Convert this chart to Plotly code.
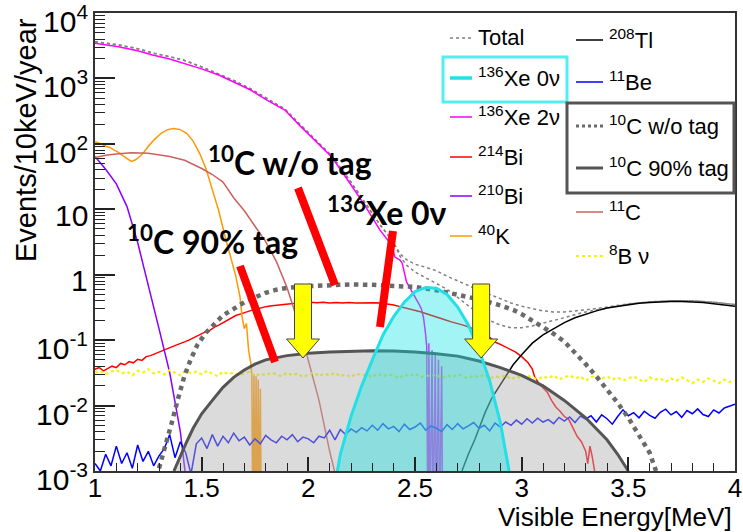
import math
import plotly.graph_objects as go

# ---------------- data ----------------
xe2n_e = [1.00, 1.05, 1.11, 1.20, 1.27, 1.35, 1.42, 1.50, 1.58, 1.65, 1.73, 1.80, 1.89, 1.96, 2.03, 2.11, 2.195,
          2.27, 2.336, 2.383, 2.40, 2.406, 2.42, 2.43, 2.44, 2.45, 2.46, 2.47, 2.48, 2.49, 2.50, 2.51, 2.52, 2.53,
          2.54, 2.55, 2.555, 2.56, 2.565, 2.57, 2.58, 2.585, 2.595, 2.60, 2.61, 2.615, 2.625, 2.63]
xe2n_v = [3440, 3300, 3060, 2650, 2280, 1980, 1700, 1400, 1130, 880, 665, 480, 329, 190, 115, 63, 25,
          10.8, 4.8, 3.05, 2.2, 1.86, 1.75, 1.68, 1.5, 1.1, 0.78, 0.68, 0.6, 0.52, 0.46, 0.41, 0.35, 0.3,
          0.22, 0.12, 0.08, 1e-4, 0.09, 1e-4, 0.07, 1e-4, 0.06, 1e-4, 0.05, 1e-4, 0.04, 1e-4]

total_e = [1.00, 1.05, 1.11, 1.20, 1.27, 1.35, 1.42, 1.50, 1.58, 1.65, 1.73, 1.80, 1.89, 1.96, 2.03, 2.11,
           2.20, 2.27, 2.336, 2.38, 2.41]
total_v = [3650, 3500, 3250, 2850, 2450, 2150, 1880, 1500, 1180, 930, 690, 500, 340, 200, 118, 65,
           26, 12, 5.8, 3.8, 2.7]
total_wo_e = [2.43, 2.46, 2.50, 2.55, 2.60, 2.65, 2.70, 2.75, 2.80, 2.85, 2.90, 2.95, 3.00, 3.05, 3.10, 3.15,
              3.20, 3.25, 3.30, 3.40, 3.50, 3.60, 3.70, 3.80, 3.90, 4.00]
total_wo_v = [2.1, 1.7, 1.45, 1.3, 1.15, 0.95, 0.8, 0.68, 0.58, 0.5, 0.43, 0.37, 0.33, 0.3, 0.28, 0.27,
              0.27, 0.28, 0.29, 0.32, 0.36, 0.385, 0.4, 0.4, 0.38, 0.35]
total_tag_e = [2.43, 2.46, 2.50, 2.55, 2.60, 2.65, 2.70, 2.75, 2.80, 2.85, 2.90, 2.95, 3.00, 3.05, 3.10, 3.15,
               3.20, 3.25, 3.30, 3.40, 3.50, 3.60, 3.70, 3.80, 3.90, 4.00]
total_tag_v = [1.9, 1.4, 1.1, 0.9, 0.75, 0.6, 0.45, 0.33, 0.25, 0.2, 0.17, 0.155, 0.155, 0.165, 0.18, 0.2,
               0.22, 0.245, 0.27, 0.31, 0.355, 0.385, 0.4, 0.4, 0.38, 0.35]

bi214_e = [1.00, 1.02, 1.04, 1.06, 1.08, 1.10, 1.12, 1.14, 1.16, 1.18, 1.20, 1.22, 1.24, 1.26, 1.28, 1.30,
           1.32, 1.34, 1.36, 1.38, 1.40, 1.42, 1.44, 1.46, 1.48, 1.50, 1.52, 1.54, 1.56, 1.58, 1.60, 1.62,
           1.64, 1.66, 1.68, 1.70, 1.72, 1.74, 1.76, 1.78, 1.80, 1.83, 1.86, 1.89, 1.92, 1.95, 1.98, 2.01,
           2.04, 2.07, 2.10, 2.13, 2.16, 2.19, 2.22, 2.25, 2.28, 2.31, 2.34, 2.37, 2.40, 2.43, 2.46, 2.49,
           2.52, 2.55, 2.58, 2.61, 2.64, 2.67, 2.70, 2.73, 2.76, 2.79, 2.82, 2.85, 2.88, 2.91, 2.94, 2.97,
           3.00, 3.03, 3.05, 3.06, 3.08, 3.10, 3.12, 3.14, 3.16, 3.18, 3.20, 3.22, 3.24, 3.26, 3.28, 3.30,
           3.31, 3.32, 3.33, 3.34, 3.35]
bi214_v = [0.036, 0.038, 0.034, 0.037, 0.040, 0.038, 0.044, 0.042, 0.047, 0.045, 0.051, 0.049, 0.056, 0.058,
           0.062, 0.066, 0.070, 0.076, 0.079, 0.084, 0.088, 0.094, 0.100, 0.108, 0.114, 0.125, 0.135, 0.142,
           0.158, 0.170, 0.186, 0.205, 0.218, 0.238, 0.25, 0.265, 0.28, 0.29, 0.30, 0.315, 0.325, 0.335,
           0.345, 0.355, 0.36, 0.37, 0.365, 0.378, 0.372, 0.38, 0.37, 0.377, 0.368, 0.375, 0.37, 0.372,
           0.366, 0.372, 0.368, 0.36, 0.345, 0.325, 0.31, 0.292, 0.275, 0.255, 0.235, 0.222, 0.205, 0.19,
           0.18, 0.168, 0.155, 0.14, 0.125, 0.11, 0.092, 0.083, 0.075, 0.066, 0.056, 0.045, 0.036, 0.028,
           0.022, 0.019, 0.016, 0.012, 0.0095, 0.0082, 0.0068, 0.0062, 0.0045, 0.0034, 0.0028, 0.002,
           0.0013, 0.0024, 0.0017, 0.0011, 0.0007]

bi210_e = [1.00, 1.05, 1.10, 1.15, 1.20, 1.25, 1.30, 1.35, 1.40, 1.43]
bi210_v = [64, 41, 24.5, 11, 3.1, 0.65, 0.15, 0.032, 0.004, 0.0006]

k40_e = [1.00, 1.03, 1.05, 1.07, 1.09, 1.11, 1.13, 1.15, 1.17, 1.19, 1.21, 1.23, 1.25, 1.28, 1.31, 1.34,
         1.37, 1.40, 1.43, 1.46, 1.49, 1.52, 1.55, 1.58, 1.61, 1.64, 1.66, 1.68, 1.69, 1.70, 1.71, 1.72,
         1.73, 1.735, 1.74, 1.745, 1.75, 1.755, 1.76, 1.765, 1.77, 1.775, 1.78]
k40_v = [108, 100, 92, 88, 80, 74, 66, 60, 54, 57, 64, 75, 92, 118, 145, 165,
         172, 165, 145, 110, 72, 42, 20, 9.5, 3.8, 1.6, 0.95, 0.45, 0.22, 0.15, 0.18, 0.07,
         0.045, 0.03, 1e-4, 0.03, 1e-4, 0.028, 1e-4, 0.025, 1e-4, 0.018, 1e-4]

c11_e = [1.00, 1.05, 1.10, 1.17, 1.25, 1.30, 1.35, 1.42, 1.50, 1.55, 1.60, 1.65, 1.70, 1.75, 1.80, 1.85,
         1.90, 1.95, 2.00, 2.05, 2.10, 2.13]
c11_v = [62, 67, 70, 73, 72, 68, 64, 56, 42, 34, 26, 15, 9.5, 5.5, 3.2, 1.6,
         0.64, 0.2, 0.05, 0.012, 0.002, 0.0008]

tl208_e = [2.72, 2.75, 2.78, 2.80, 2.83, 2.86, 2.90, 2.93, 2.96, 3.00, 3.05, 3.10, 3.15, 3.20, 3.25, 3.30,
           3.35, 3.40, 3.45, 3.50, 3.55, 3.60, 3.65, 3.70, 3.75, 3.80, 3.85, 3.90, 3.95, 4.00]
tl208_v = [0.001, 0.0018, 0.003, 0.0045, 0.008, 0.013, 0.021, 0.03, 0.042, 0.06, 0.09, 0.12, 0.15, 0.185,
           0.22, 0.25, 0.28, 0.31, 0.33, 0.35, 0.365, 0.375, 0.385, 0.39, 0.39, 0.385, 0.375, 0.36, 0.345, 0.33]

grid_e = [round(1.0 + 0.025 * i, 3) for i in range(121)]
be11_v = [1.3, 1.0, 1.8, 1.2, 2.4, 1.3, 1.9, 1.1, 2.5, 1.4, 2.0, 1.2, 1.7, 2.2, 3.6, 1.6, 2.8, 1.9, 0.9, 2.6,
          3.2, 2.2, 3.6, 2.4, 3.4, 2.7, 3.8, 2.9, 3.3, 2.5, 3.1, 2.6, 3.5, 3.0, 2.7, 3.4, 3.0, 3.6, 2.8, 3.3,
          3.1, 2.7, 3.4, 3.2, 4.2, 3.0, 4.3, 3.6, 4.4, 3.9, 4.6, 4.1, 5.0, 4.2, 5.3, 4.4, 4.8, 4.0, 5.2, 4.3,
          4.7, 5.4, 4.2, 4.9, 4.5, 4.0, 5.1, 4.3, 5.3, 4.4, 4.9, 5.5, 4.5, 5.0, 4.1, 5.4, 4.7, 5.6, 5.0, 6.0,
          5.2, 6.3, 5.4, 6.4, 5.6, 6.1, 5.3, 6.6, 5.8, 6.7, 5.5, 6.9, 6.2, 7.0, 5.6, 7.2, 6.3, 5.2, 6.8, 8.6,
          7.0, 7.8, 6.5, 8.2, 7.1, 6.4, 7.9, 8.8, 7.2, 8.1, 6.6, 8.4, 7.5, 8.9, 7.3, 6.8, 8.6, 7.7, 9.2, 9.8,
          10.5]  # x 1e-3
b8_v = [3.2, 3.4, 3.0, 3.3, 3.5, 3.1, 3.3, 2.9, 3.4, 3.2, 3.6, 3.1, 3.3, 3.0, 3.5, 3.2, 2.9, 3.4, 3.1, 3.3,
        3.0, 3.4, 3.1, 2.8, 3.3, 3.0, 3.2, 2.9, 3.1, 3.3, 2.8, 3.1, 2.9, 3.2, 3.0, 2.8, 3.2, 2.9, 3.1, 2.7,
        3.0, 3.2, 2.8, 3.1, 2.9, 3.2, 2.8, 3.0, 2.7, 3.1, 2.9, 3.0, 2.7, 3.1, 2.8, 3.0, 2.9, 2.6, 3.0, 2.8,
        3.1, 2.7, 2.9, 2.8, 3.0, 2.6, 2.9, 2.7, 3.0, 2.8, 2.6, 2.9, 2.7, 3.0, 2.6, 2.8, 2.7, 2.9, 2.5, 2.8,
        2.6, 2.9, 2.7, 2.5, 2.8, 2.6, 2.9, 2.5, 2.7, 2.9, 2.6, 2.8, 2.4, 2.7, 2.9, 2.6, 2.8, 2.5, 2.7, 2.4,
        2.6, 2.8, 2.5, 2.3, 2.7, 2.5, 2.6, 2.3, 2.6, 2.4, 2.7, 2.4, 2.2, 2.5, 2.3, 2.6, 2.4, 2.2, 2.5, 2.3,
        2.4]  # x 1e-2

c10wo_e = [1.30, 1.33, 1.36, 1.39, 1.42, 1.45, 1.48, 1.52, 1.56, 1.60, 1.65, 1.70, 1.75, 1.80, 1.85, 1.90,
           2.00, 2.10, 2.20, 2.30, 2.40, 2.50, 2.60, 2.70, 2.80, 2.90, 2.96, 3.00, 3.05, 3.10, 3.15, 3.20,
           3.25, 3.30, 3.35, 3.40, 3.45, 3.50, 3.55, 3.60, 3.63]
c10wo_v = [0.0011, 0.0023, 0.0055, 0.013, 0.029, 0.052, 0.085, 0.13, 0.18, 0.24, 0.3, 0.38, 0.45, 0.53,
           0.59, 0.63, 0.67, 0.7, 0.71, 0.7, 0.68, 0.65, 0.58, 0.5, 0.42, 0.34, 0.29, 0.25, 0.2, 0.16,
           0.125, 0.095, 0.065, 0.043, 0.028, 0.018, 0.011, 0.0065, 0.0035, 0.0019, 0.001]

c10tag_e = [1.37, 1.40, 1.43, 1.46, 1.50, 1.55, 1.60, 1.65, 1.70, 1.75, 1.80, 1.90, 2.00, 2.10, 2.20, 2.30,
            2.40, 2.50, 2.60, 2.70, 2.80, 2.90, 3.00, 3.10, 3.20, 3.30, 3.40, 3.45, 3.50]
c10tag_v = [0.001, 0.0017, 0.0028, 0.0045, 0.0075, 0.012, 0.019, 0.027, 0.035, 0.043, 0.05, 0.058, 0.063,
            0.066, 0.068, 0.069, 0.068, 0.066, 0.062, 0.057, 0.048, 0.038, 0.029, 0.02, 0.012, 0.0065,
            0.003, 0.0018, 0.001]

xe0n_e = [2.12, 2.15, 2.20, 2.25, 2.30, 2.35, 2.40, 2.45, 2.50, 2.55, 2.60, 2.65, 2.70, 2.75, 2.80, 2.85,
          2.90, 2.95, 2.97]
xe0n_v = [0.0005, 0.0018, 0.0068, 0.02, 0.05, 0.12, 0.23, 0.38, 0.55, 0.64, 0.62, 0.5, 0.32, 0.17, 0.072,
          0.024, 0.0055, 0.0008, 0.0003]

arrow_e = [1.975, 2.81]

ytick_vals = [1e-3, 1e-2, 1e-1, 1, 10, 1e2, 1e3, 1e4]
ytick_text = ["10<sup>-3</sup>", "10<sup>-2</sup>", "10<sup>-1</sup>", "1", "10",
              "10<sup>2</sup>", "10<sup>3</sup>", "10<sup>4</sup>"]

# ---------------- layout helpers (pixel -> paper) ----------------
W, H = 743, 532
ML, MR, MT, MB = 95, 8, 13, 61
PW, PH = W - ML - MR, H - MT - MB


def px(x):
    return (x - ML) / PW


def py(y):
    return (H - MB - y) / PH


fig = go.Figure()


def line(x, y, color, width=1.5, dash=None, **kw):
    fig.add_trace(go.Scatter(x=x, y=y, mode="lines",
                             line=dict(color=color, width=width, dash=dash),
                             showlegend=False, hoverinfo="skip", **kw))


line(total_e + total_wo_e, total_v + total_wo_v, "#808080", 1.5, "dot")
line(total_e + total_tag_e, total_v + total_tag_v, "#808080", 1.5, "dot")
line(xe2n_e, xe2n_v, "#ff00ff", 1.5)
line(bi214_e, bi214_v, "#ff0000", 1.5)
line(bi210_e, bi210_v, "#8a00ff", 1.5)
line(k40_e, k40_v, "#ff9900", 1.5)
line(c11_e, c11_v, "#cc6060", 1.5)
line(tl208_e, tl208_v, "#000000", 1.5)
line(grid_e, [v * 1e-3 for v in be11_v], "#0000ff", 1.5)
line(grid_e, [v * 1e-2 for v in b8_v], "#f5f500", 2.2, "dot")
line(c10wo_e, c10wo_v, "#6a6a6a", 4.5, "dot")
fig.add_trace(go.Scatter(x=c10tag_e, y=c10tag_v, mode="lines", fill="tozeroy",
                         fillcolor="rgba(175,175,175,0.45)",
                         line=dict(color="#555555", width=3),
                         showlegend=False, hoverinfo="skip"))
fig.add_trace(go.Scatter(x=xe0n_e, y=xe0n_v, mode="lines", fill="tozeroy",
                         fillcolor="rgba(0,225,225,0.36)",
                         line=dict(color="#22e0e6", width=3),
                         showlegend=False, hoverinfo="skip"))

shapes = []
anns = []

LEG = "Liberation Sans, Arial, sans-serif"

# y tick labels (drawn as text next to the axis, slightly below the tick as in the original)
for v, t in zip(ytick_vals, ytick_text):
    anns.append(dict(text=t, xref="paper", yref="y", x=px(90), y=math.log10(v), yshift=-6,
                     xanchor="right", yanchor="middle", showarrow=False,
                     font=dict(family=LEG, size=30, color="black")))

# legend
col1 = [("Total", 38, "#808080", 1.5, "dot"),
        ("<sup>136</sup>Xe 0ν", 78, "#22e0e6", 3.5, None),
        ("<sup>136</sup>Xe 2ν", 117, "#ff00ff", 1.5, None),
        ("<sup>214</sup>Bi", 157, "#ff0000", 1.5, None),
        ("<sup>210</sup>Bi", 196, "#8a00ff", 1.5, None),
        ("<sup>40</sup>K", 236, "#ff9900", 1.5, None)]
col2 = [("<sup>208</sup>Tl", 40, "#000000", 1.5, None),
        ("<sup>11</sup>Be", 82, "#0000ff", 1.5, None),
        ("<sup>10</sup>C w/o tag", 126, "#6a6a6a", 3, "dot"),
        ("<sup>10</sup>C 90% tag", 168, "#555555", 3, None),
        ("<sup>11</sup>C", 212, "#cc6060", 1.5, None),
        ("<sup>8</sup>B ν", 256, "#f5f500", 2, "dot")]
for entries, x0, x1, xt in [(col1, 450, 472, 476), (col2, 576, 603, 607)]:
    for txt, yy, col, wd, ds in entries:
        shapes.append(dict(type="line", xref="paper", yref="paper", x0=px(x0), x1=px(x1),
                           y0=py(yy), y1=py(yy), line=dict(color=col, width=wd, dash=ds)))
        anns.append(dict(text=txt, xref="paper", yref="paper", x=px(xt), y=py(yy - 1),
                         xanchor="left", yanchor="middle", showarrow=False,
                         font=dict(family=LEG, size=22, color="black")))
shapes.append(dict(type="rect", xref="paper", yref="paper", x0=px(443), x1=px(567),
                   y0=py(102), y1=py(57), line=dict(color="#55eef0", width=3)))
shapes.append(dict(type="rect", xref="paper", yref="paper", x0=px(567), x1=px(734),
                   y0=py(193), y1=py(103), line=dict(color="#555555", width=3)))

# red pointer lines
for (xa, ya, xb, yb) in [(298, 188, 335, 285), (393, 231, 380, 327), (240, 266, 275, 362)]:
    shapes.append(dict(type="line", xref="paper", yref="paper", x0=px(xa), y0=py(ya),
                       x1=px(xb), y1=py(yb), line=dict(color="#ff0000", width=8)))

# yellow arrows
for e in arrow_e:
    cx = ML + (e - 1.0) / 3.0 * PW
    pts = [(cx - 8.5, 284), (cx + 8.5, 284), (cx + 8.5, 339), (cx + 16.5, 339), (cx, 358),
           (cx - 16.5, 339), (cx - 8.5, 339)]
    path = "M " + " L ".join(f"{px(a):.5f},{py(b):.5f}" for a, b in pts) + " Z"
    shapes.append(dict(type="path", xref="paper", yref="paper", path=path,
                       fillcolor="#ffff00", line=dict(color="#444444", width=1)))

# big bold labels
BIG = "Lato, Open Sans, sans-serif"
for txt, xl, yc in [("<b><sup>10</sup>C w/o tag</b>", 206, 161),
                    ("<b><sup>136</sup>Xe 0ν</b>", 325, 211),
                    ("<b><sup>10</sup>C 90% tag</b>", 125, 240)]:
    anns.append(dict(text=txt, xref="paper", yref="paper", x=px(xl), y=py(yc),
                     xanchor="left", yanchor="middle", showarrow=False,
                     font=dict(family=BIG, size=32, color="black")))

# axis titles
anns.append(dict(text="Visible Energy[MeV]", xref="paper", yref="paper", x=px(734), y=py(517),
                 xanchor="right", yanchor="middle", showarrow=False,
                 font=dict(family=LEG, size=26, color="black")))
anns.append(dict(text="Events/10keV/year", xref="paper", yref="paper", x=px(26), y=py(16),
                 xanchor="center", yanchor="top", textangle=-90, showarrow=False,
                 font=dict(family=LEG, size=29, color="black")))

minor_y = [m * 10 ** d for d in range(-3, 4) for m in range(2, 10)]

fig.update_layout(
    width=W, height=H, margin=dict(l=ML, r=MR, t=MT, b=MB, autoexpand=False),
    paper_bgcolor="white", plot_bgcolor="white",
    shapes=shapes, annotations=anns, showlegend=False,
    xaxis=dict(range=[1, 4], dtick=0.5, tick0=1, ticks="inside", ticklen=14, tickwidth=1.5,
               tickcolor="#222", showgrid=False, zeroline=False, showline=True, mirror=True,
               linecolor="#333", linewidth=2, ticklabelstandoff=-7, ticklabeloverflow="allow",
               automargin=False,
               tickfont=dict(family=LEG, size=26, color="black"),
               minor=dict(dtick=0.1, ticks="inside", ticklen=8, tickwidth=1.2, tickcolor="#222",
                          showgrid=False)),
    yaxis=dict(type="log", range=[-3, 4], tickvals=ytick_vals, showticklabels=False,
               ticks="inside", ticklen=20, tickwidth=1.5, tickcolor="#222", showgrid=False,
               zeroline=False, showline=True, mirror=True, linecolor="#333", linewidth=2,
               automargin=False,
               minor=dict(tickvals=minor_y, ticks="inside", ticklen=10, tickwidth=1.2,
                          tickcolor="#222", showgrid=False)),
)

fig.write_html("out.html", config={"displayModeBar": False})
